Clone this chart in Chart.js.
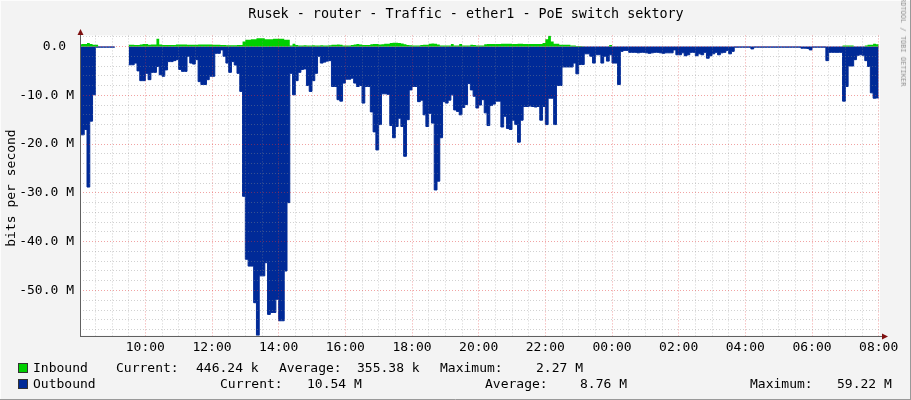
<!DOCTYPE html>
<html>
<head>
<meta charset="utf-8">
<title>Rusek - router - Traffic - ether1</title>
<script src="https://cdn.jsdelivr.net/npm/chart.js@4.4.1/dist/chart.umd.min.js"></script>
<style>
  body { margin: 0; background: #f3f3f3; }
  #wrap { position: relative; width: 911px; height: 400px; overflow: hidden;
          font-family: "DejaVu Sans Mono", monospace; font-size: 13px; color: #000; }
  #wrap canvas { position: absolute; left: 0; top: 0; }
  .t { position: absolute; white-space: pre; line-height: 16px; }
  .box { position: absolute; width: 10px; height: 10px; box-sizing: border-box; border: 1px solid #333; }
</style>
</head>
<body>
<div id="wrap">
  <canvas id="mainChart" width="911" height="400"></canvas>
  <div class="t" id="title" style="left:466px; top:6px; font-size:13.4px; transform:translateX(-50%);">Rusek - router - Traffic - ether1 - PoE switch sektory</div>
  <div class="t" style="left:11px; top:188px; transform:translate(-50%,-50%) rotate(-90deg);">bits per second</div>
  <div class="t" style="left:903px; top:40px; font-size:7px; line-height:8px; color:#909090; transform:translate(-50%,-50%) rotate(90deg);">RRDTOOL / TOBI OETIKER</div>
  <div id="legend"></div>
</div>
<script>
// samples every 5 minutes, first one at 08:00, values in Mbit/s
const startHour = 8;
const stepMinutes = 5;

const outbound = [
  -27.6, -18.1, -18.1, -17.0, -28.8, -15.3, -9.9, -0.15, -0.15, -0.15, -0.15, -0.15,
  -0.15, -0.15, null, null, null, null, -3.75, -3.75, -3.75, -3.4, -5.0, -7.0,
  -7.0, -5.5, -6.8, -5.3, -5.3, -4.1, -5.8, -6.1, -4.8, -3.1, -3.1, -2.9,
  -2.7, -4.7, -5.1, -5.1, -2.0, -3.4, -3.6, -2.7, -7.2, -7.8, -7.8, -6.8,
  -6.1, -6.1, -1.4, -1.4, -0.7, -2.0, -3.4, -5.3, -3.1, -3.8, -5.5, -9.2,
  -30.7, -43.6, -45.0, -45.0, -52.5, -59.22, -47.0, -47.0, -44.3, -54.9, -54.5, -54.5,
  -51.8, -56.2, -56.2, -46.0, -32.0, -5.5, -9.9, -7.0, -5.3, -4.7, -4.6, -8.0,
  -9.2, -7.0, -5.5, -2.0, -3.4, -3.2, -3.0, -2.9, -8.2, -8.2, -10.9, -11.2,
  -7.5, -6.7, -6.7, -6.5, -7.5, -8.2, -8.0, -11.6, -8.2, -8.2, -13.4, -17.5,
  -21.2, -16.0, -9.7, -9.7, -9.8, -16.2, -18.7, -16.4, -14.7, -16.4, -22.5, -15.0,
  -8.9, -8.2, -8.2, -11.3, -11.0, -14.0, -16.4, -13.7, -15.7, -29.4, -27.6, -18.7,
  -11.3, -11.6, -11.0, -9.9, -13.0, -13.3, -14.0, -12.5, -11.9, -7.6, -8.9, -10.2,
  -12.6, -12.0, -10.9, -13.6, -16.2, -12.1, -11.8, -11.2, -11.2, -16.5, -14.3, -16.8,
  -17.0, -15.1, -16.0, -19.6, -15.1, -12.3, -12.3, -12.2, -12.3, -12.4, -12.3, -15.1,
  -12.3, -16.0, -10.6, -10.6, -16.0, -8.0, -8.0, -4.2, -4.2, -4.2, -4.2, -3.4,
  -5.6, -3.7, -3.7, -1.5, -1.5, -2.0, -3.4, -1.7, -1.7, -3.4, -2.0, -3.0,
  -1.7, -3.4, -3.4, -7.8, -1.0, -0.8, -0.8, -1.2, -1.2, -1.2, -1.3, -1.2,
  -1.2, -1.3, -1.4, -1.3, -1.2, -1.2, -1.3, -1.4, -1.3, -1.3, -1.3, -0.7,
  -1.7, -1.7, -1.3, -1.9, -1.7, -1.2, -1.2, -1.9, -1.5, -1.7, -1.2, -2.4,
  -1.9, -1.5, -1.2, -1.7, -1.3, -1.2, -0.8, -1.5, -1.0, -0.15, -0.15, -0.15,
  -0.15, -0.15, -0.15, -0.5, -0.15, -0.15, -0.15, -0.15, -0.15, -0.15, -0.15, -0.15,
  -0.15, -0.15, -0.15, -0.15, -0.15, -0.15, -0.15, -0.15, -0.15, -0.35, -0.35, -0.4,
  -0.7, -0.15, -0.15, -0.15, -0.15, -0.15, -2.9, -1.2, -1.2, -1.2, -1.2, -1.2,
  -11.2, -8.2, -4.0, -4.0, -2.7, -1.8, -1.7, -1.8, -2.9, -4.1, -9.5, -10.6,
  -10.54
];

const inbound = [
  0.4, 0.4, 0.5, 0.5, 0.7, 0.5, 0.35, 0.35, 0, 0, 0, 0,
  0, 0, null, null, null, null, 0.35, 0.35, 0.35, 0.3, 0.3, 0.4,
  0.5, 0.5, 0.35, 0.4, 0.4, 1.6, 0.4, 0.3, 0.3, 0.3, 0.3, 0.3,
  0.4, 0.4, 0.4, 0.4, 0.35, 0.35, 0.35, 0.35, 0.4, 0.4, 0.4, 0.4,
  0.4, 0.35, 0.35, 0.35, 0.3, 0.3, 0.25, 0.25, 0.25, 0.25, 0.3, 0.3,
  1.0, 1.4, 1.4, 1.5, 1.5, 1.7, 1.7, 1.7, 1.5, 1.5, 1.5, 1.6,
  1.6, 1.6, 1.6, 1.4, 1.4, 0.2, 0.55, 0.3, 0.2, 0.2, 0.25, 0.2,
  0.2, 0.25, 0.2, 0.2, 0.25, 0.2, 0.2, 0.25, 0.35, 0.35, 0.4, 0.35,
  0.2, 0.2, 0.2, 0.3, 0.4, 0.5, 0.4, 0.3, 0.3, 0.3, 0.45, 0.5,
  0.5, 0.4, 0.45, 0.55, 0.55, 0.7, 0.75, 0.75, 0.7, 0.6, 0.45, 0.3,
  0.25, 0.2, 0.2, 0.2, 0.3, 0.35, 0.35, 0.55, 0.6, 0.55, 0.4, 0.2,
  0.2, 0.2, 0.2, 0.5, 0.2, 0.2, 0.5, 0.2, 0.2, 0.2, 0.35, 0.3,
  0.2, 0.2, 0.2, 0.45, 0.5, 0.5, 0.5, 0.5, 0.5, 0.55, 0.55, 0.55,
  0.55, 0.5, 0.5, 0.55, 0.55, 0.5, 0.5, 0.5, 0.5, 0.5, 0.5, 0.5,
  0.7, 1.5, 2.27, 1.0, 0.55, 0.55, 0.35, 0.35, 0.35, 0.35, 0.2, 0.2,
  0.1, 0.1, 0.05, 0.01, 0.01, 0.01, 0.01, 0.01, 0.01, 0.01, 0.01, 0.01,
  0.3, 0.01, 0.01, 0.01, 0.01, 0.01, 0.01, 0.01, 0.01, 0.01, 0.01, 0.01,
  0.01, 0.01, 0.01, 0.01, 0.01, 0.01, 0.01, 0.01, 0.01, 0.01, 0.01, 0.01,
  0.01, 0.01, 0.01, 0.01, 0.01, 0.01, 0.01, 0.01, 0.01, 0.01, 0.01, 0.01,
  0.01, 0.01, 0.01, 0.01, 0.01, 0.01, 0.01, 0.01, 0.01, 0.01, 0.01, 0.01,
  0.01, 0.01, 0.01, 0.01, 0.01, 0.01, 0.01, 0.01, 0.01, 0.01, 0.01, 0.01,
  0.01, 0.01, 0.01, 0.01, 0.01, 0.01, 0.01, 0.01, 0.01, 0.01, 0.01, 0.01,
  0.01, 0.01, 0.01, 0.01, 0.01, 0.01, 0.01, 0.01, 0.01, 0.01, 0.01, 0.01,
  0.2, 0.2, 0.2, 0.2, 0.01, 0.01, 0.01, 0.01, 0.2, 0.35, 0.35, 0.55,
  0.45
];

// axis labels
const xTickHours = [2, 4, 6, 8, 10, 12, 14, 16, 18, 20, 22, 24];
const xTickLabels = ['10:00', '12:00', '14:00', '16:00', '18:00', '20:00', '22:00', '00:00', '02:00', '04:00', '06:00', '08:00'];
const yTickValues = [0, -10, -20, -30, -40, -50];
const yTickLabels = ['0.0 ', '-10.0 M', '-20.0 M', '-30.0 M', '-40.0 M', '-50.0 M'];

// legend rows: [left px, text]
const legendInbound = [[33, 'Inbound'], [116, 'Current:'], [196, '446.24 k'], [279, 'Average:'], [357, '355.38 k'], [440, 'Maximum:'], [536, '2.27 M']];
const legendOutbound = [[33, 'Outbound'], [220, 'Current:'], [307, '10.54 M'], [485, 'Average:'], [580, '8.76 M'], [750, 'Maximum:'], [837, '59.22 M']];

const inColor = '#00CF00';
const outColor = '#002A97';

document.addEventListener("DOMContentLoaded", function () {
    const legend = document.getElementById('legend');
    function addRow(items, top, color) {
        const box = document.createElement('div');
        box.className = 'box';
        box.style.left = '18px';
        box.style.top = (top + 3) + 'px';
        box.style.background = color;
        legend.appendChild(box);
        items.forEach(([left, text]) => {
            const d = document.createElement('div');
            d.className = 't';
            d.style.left = left + 'px';
            d.style.top = top + 'px';
            d.textContent = text;
            legend.appendChild(d);
        });
    }
    addRow(legendInbound, 360, inColor);
    addRow(legendOutbound, 376, outColor);

    const toPoints = arr => arr.map((v, i) => ({ x: i * stepMinutes / 60, y: v }));

    const gray = 'rgba(140,140,140,0.4)';
    const red = 'rgba(225,50,50,0.45)';

    const bgPlugin = {
        id: 'bg',
        beforeDraw(chart) {
            const { ctx, chartArea: a } = chart;
            ctx.save();
            ctx.fillStyle = '#f3f3f3';
            ctx.fillRect(0, 0, chart.width, chart.height);
            ctx.fillStyle = '#ffffff';
            ctx.fillRect(a.left, a.top, a.right - a.left, a.bottom - a.top);
            ctx.restore();
        },
        afterDraw(chart) {
            const { ctx, chartArea: a } = chart;
            ctx.save();
            // axes
            ctx.strokeStyle = '#606060';
            ctx.lineWidth = 1;
            ctx.beginPath();
            ctx.moveTo(a.left + 0.5, Math.round(a.bottom) + 0.5);
            ctx.lineTo(a.left + 0.5, 33);
            ctx.moveTo(a.left, Math.round(a.bottom) + 0.5);
            ctx.lineTo(884, Math.round(a.bottom) + 0.5);
            ctx.stroke();
            // arrows
            ctx.fillStyle = '#7f1010';
            ctx.beginPath();
            ctx.moveTo(a.left + 0.5, 29);
            ctx.lineTo(a.left - 2.5, 35);
            ctx.lineTo(a.left + 3.5, 35);
            ctx.closePath();
            ctx.fill();
            const by = Math.round(a.bottom) + 0.5;
            ctx.beginPath();
            ctx.moveTo(888, by);
            ctx.lineTo(882, by - 3);
            ctx.lineTo(882, by + 3);
            ctx.closePath();
            ctx.fill();
            // frame
            ctx.strokeStyle = '#999999';
            ctx.beginPath();
            ctx.moveTo(910.5, 0);
            ctx.lineTo(910.5, 400);
            ctx.moveTo(0, 399.5);
            ctx.lineTo(911, 399.5);
            ctx.stroke();
            ctx.strokeStyle = '#fcfcfc';
            ctx.beginPath();
            ctx.moveTo(0.5, 0);
            ctx.lineTo(0.5, 399);
            ctx.moveTo(0, 0.5);
            ctx.lineTo(910, 0.5);
            ctx.stroke();
            ctx.restore();
        }
    };

    const ctx = document.getElementById('mainChart').getContext('2d');
    new Chart(ctx, {
        type: 'line',
        data: {
            datasets: [{
                label: 'Inbound',
                data: toPoints(inbound),
                backgroundColor: inColor,
                borderColor: 'rgba(0,0,0,0)',
                borderWidth: 1,
                fill: 'origin',
                stepped: 'after',
                pointRadius: 0,
                spanGaps: false
            }, {
                label: 'Outbound',
                data: toPoints(outbound),
                backgroundColor: outColor,
                borderColor: outColor,
                borderWidth: 1,
                fill: 'origin',
                stepped: 'after',
                pointRadius: 0,
                spanGaps: false
            }]
        },
        options: {
            responsive: false,
            animation: false,
            devicePixelRatio: 1,
            events: [],
            layout: { padding: { left: 0, right: 31, top: 35.4, bottom: 40.5 } },
            plugins: { legend: { display: false }, tooltip: { enabled: false }, title: { display: false } },
            scales: {
                x: {
                    type: 'linear',
                    min: 0.04,
                    max: 24.04,
                    border: { display: false, dash: [1, 2] },
                    grid: {
                        z: 1,
                        drawTicks: false,
                        color: c => (c.tick && Math.abs(c.tick.value % 2) < 1e-6) ? red : gray
                    },
                    afterBuildTicks: s => {
                        const t = [];
                        for (let h = 0.5; h <= 24.001; h += 0.5) t.push({ value: h });
                        s.ticks = t;
                    },
                    afterFit: s => { s.height = 24; },
                    ticks: {
                        autoSkip: false,
                        maxRotation: 0,
                        padding: 4,
                        color: '#000',
                        font: { family: 'DejaVu Sans Mono', size: 13 },
                        callback: v => {
                            const i = xTickHours.findIndex(h => Math.abs(h - v) < 1e-6);
                            return i >= 0 ? xTickLabels[i] : '';
                        }
                    }
                },
                y: {
                    min: -59.22,
                    max: 2.27,
                    border: { display: false, dash: [1, 2] },
                    grid: {
                        z: 1,
                        drawTicks: false,
                        color: c => (c.tick && Math.abs(c.tick.value % 10) < 1e-6) ? red : gray
                    },
                    afterBuildTicks: s => {
                        const t = [];
                        for (let v = 2; v >= -58; v -= 2) t.push({ value: v });
                        s.ticks = t;
                    },
                    afterFit: s => { s.width = 80; },
                    ticks: {
                        autoSkip: false,
                        padding: 6,
                        color: '#000',
                        font: { family: 'DejaVu Sans Mono', size: 13 },
                        callback: v => {
                            const i = yTickValues.findIndex(y => Math.abs(y - v) < 1e-6);
                            return i >= 0 ? yTickLabels[i] : '';
                        }
                    }
                }
            }
        },
        plugins: [bgPlugin]
    });
});
</script>
</body>
</html>
